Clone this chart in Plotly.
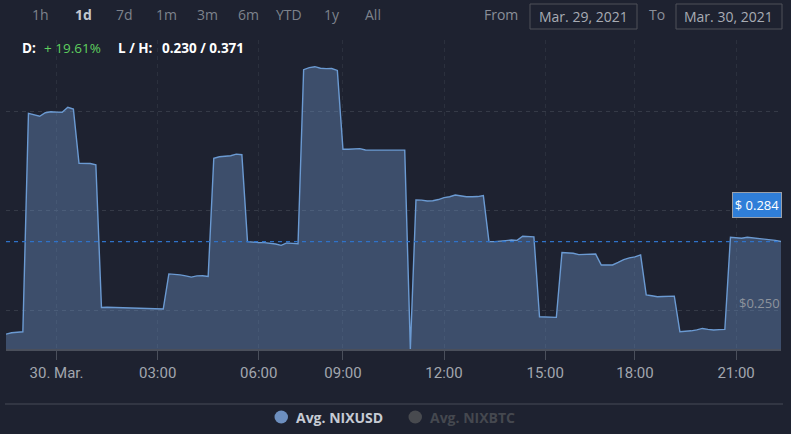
import pandas as pd
import plotly.graph_objects as go

# ---------------- data ----------------
# 10-minute samples of Avg. NIXUSD, 29 Mar 2021 22:30 -> 30 Mar 2021 22:20 (gaps removed, ordinal axis)
missing_times = ["2021-03-30 07:00", "2021-03-30 07:10", "2021-03-30 07:20",
                 "2021-03-30 16:20", "2021-03-30 16:30"]
nixusd = [
    0.2378, 0.2385, 0.2388, 0.2390,
    0.3492, 0.3483, 0.3477, 0.3495, 0.3500, 0.3498, 0.3497, 0.3522, 0.3513,
    0.3240, 0.3240, 0.3239, 0.3232,
    0.2513, 0.2514, 0.2513, 0.2512, 0.2512, 0.2511, 0.2510, 0.2509, 0.2509, 0.2507, 0.2506, 0.2505,
    0.2682, 0.2680, 0.2677, 0.2672, 0.2666, 0.2672, 0.2673, 0.2669,
    0.3265, 0.3273, 0.3276, 0.3278, 0.3286, 0.3283,
    0.2845, 0.2841, 0.2840, 0.2840, 0.2838, 0.2833, 0.2826, 0.2838, 0.2836, 0.2834,
    0.3712, 0.3722, 0.3727, 0.3719, 0.3717, 0.3718, 0.3708,
    0.3311, 0.3311, 0.3313, 0.3314, 0.3307, 0.3307, 0.3307, 0.3305, 0.3305, 0.3306, 0.3306, 0.3306,
    0.2304,
    0.3055, 0.3054, 0.3050, 0.3051, 0.3057, 0.3067, 0.3071, 0.3080, 0.3074, 0.3071, 0.3071, 0.3072, 0.3077,
    0.2845, 0.2845, 0.2846, 0.2850, 0.2853, 0.2851, 0.2872, 0.2870, 0.2869,
    0.2466, 0.2466, 0.2465, 0.2463,
    0.2790, 0.2788, 0.2786, 0.2779, 0.2779, 0.2781, 0.2782,
    0.2727, 0.2727, 0.2727, 0.2740, 0.2754, 0.2763, 0.2768, 0.2778,
    0.2576, 0.2572, 0.2567, 0.2568, 0.2569, 0.2570,
    0.2390, 0.2392, 0.2395, 0.2400, 0.2407, 0.2402, 0.2399, 0.2401, 0.2402,
    0.2867, 0.2864, 0.2862, 0.2867, 0.2864, 0.2861, 0.2858, 0.2855, 0.2851, 0.2845,
]
tick_times = ["00:00", "03:00", "06:00", "09:00", "12:00", "15:00", "18:00", "21:00"]
tick_labels = ["30. Mar.", "03:00", "06:00", "09:00", "12:00", "15:00", "18:00", "21:00"]
y_grid = [0.25, 0.30, 0.35]
range_buttons = ["1h", "1d", "7d", "1m", "3m", "6m", "YTD", "1y", "All"]
stats_change = "+ 19.61%"
stats_low_high = "0.230 / 0.371"
date_from = "Mar. 29, 2021"
date_to = "Mar. 30, 2021"
series_names = ["Avg. NIXUSD", "Avg. NIXBTC"]

# ---------------- build ----------------
times = pd.date_range("2021-03-29 22:30", "2021-03-30 22:20", freq="10min")
times = times[~times.isin(pd.to_datetime(missing_times))]
assert len(times) == len(nixusd)
pos = list(range(len(times)))  # ordinal positions
labels_hm = [t.strftime("%H:%M") for t in times]
tickvals = [labels_hm.index(t) for t in tick_times]

BG = "#1e2230"
W, H = 791, 434
L, R, T, B = 6, 781, 40, 349


def fx(px):
    return (px - L) / (R - L)


def fy(py):
    return (B - py) / (B - T)


fig = go.Figure()
fig.add_trace(go.Scatter(
    x=pos, y=nixusd, mode="lines", fill="tozeroy",
    line=dict(color="#6b9ad2", width=1.4),
    fillcolor="rgba(110,150,200,0.39)",
    hoverinfo="skip", showlegend=False,
))

last = nixusd[-1]
shapes = [
    # current price line
    dict(type="line", xref="paper", yref="y", x0=0, x1=1, y0=last, y1=last,
         line=dict(color="#2f72c8", width=1.4, dash="4px,4px"), layer="above"),
    # date input boxes
    dict(type="rect", xref="paper", yref="paper", x0=fx(530), x1=fx(637), y0=fy(29), y1=fy(4),
         line=dict(color="#4f5158", width=1)),
    dict(type="rect", xref="paper", yref="paper", x0=fx(676), x1=fx(782), y0=fy(29), y1=fy(4),
         line=dict(color="#4f5158", width=1)),
    # separator line above legend
    dict(type="line", xref="paper", yref="paper", x0=fx(5), x1=fx(783), y0=fy(404), y1=fy(404),
         line=dict(color="#3a3e4a", width=1.5)),
    # legend symbols
    dict(type="circle", xref="paper", yref="paper", x0=fx(274.5), x1=fx(288), y0=fy(423.5), y1=fy(410.5),
         fillcolor="#6d8fbf", line=dict(width=0)),
    dict(type="circle", xref="paper", yref="paper", x0=fx(408.5), x1=fx(422), y0=fy(423.5), y1=fy(410.5),
         fillcolor="#484a4f", line=dict(width=0)),
]

ann = []
btn_x = [40, 83, 124, 166, 207, 248, 289, 332, 373]
for name, bx in zip(range_buttons, btn_x):
    sel = name == "1d"
    ann.append(dict(x=fx(bx), y=fy(15), xref="paper", yref="paper", showarrow=False,
                    text=f"<b>{name}</b>" if sel else name,
                    font=dict(family="Open Sans", size=14, color="#c3c7cf" if sel else "#7d828c"),
                    xanchor="center", yanchor="middle"))
ann += [
    dict(x=fx(501), y=fy(15), text="From", font=dict(family="Open Sans", size=14, color="#8a8f99")),
    dict(x=fx(583), y=fy(16), text=date_from, font=dict(family="Open Sans", size=14, color="#a8acb4")),
    dict(x=fx(657), y=fy(15), text="To", font=dict(family="Open Sans", size=14, color="#8a8f99")),
    dict(x=fx(728), y=fy(16), text=date_to, font=dict(family="Open Sans", size=14, color="#a8acb4")),
]
for a in ann[-4:]:
    a.update(xref="paper", yref="paper", showarrow=False, xanchor="center", yanchor="middle")

stat_font = "Open Sans"
ann += [
    dict(x=fx(20), y=fy(47.5), text="<b>D:</b>", font=dict(family=stat_font, size=13.5, color="#ffffff"),
         xanchor="left"),
    dict(x=fx(42), y=fy(47.5), text=stats_change, font=dict(family=stat_font, size=13.5, color="#5fd05f"),
         xanchor="left"),
    dict(x=fx(116), y=fy(47.5), text="<b>L / H:</b>", font=dict(family=stat_font, size=13.5, color="#ffffff"),
         xanchor="left"),
    dict(x=fx(160), y=fy(47.5), text=f"<b>{stats_low_high}</b>",
         font=dict(family=stat_font, size=13.5, color="#ffffff"), xanchor="left"),
]
for a in ann[-4:]:
    a.update(xref="paper", yref="paper", showarrow=False, yanchor="middle")

# y-axis label + current-price label
ann += [
    dict(x=fx(782), y=fy(303), xref="paper", yref="paper", showarrow=False, text="$0.250",
         font=dict(family="Open Sans", size=13, color="#8e939c"), xanchor="right", yanchor="middle"),
    dict(x=fx(782), y=fy(204.5), xref="paper", yref="paper", showarrow=False, text=f"$ {last:.3f}"[:7],
         font=dict(family="Open Sans", size=13, color="#ffffff"), xanchor="right", yanchor="middle",
         bgcolor="#2f7ed8", bordercolor="#9aa0aa", borderwidth=1, borderpad=2, width=44, height=20),
]
# legend
leg_font = "Open Sans"
ann += [
    dict(x=fx(294), y=fy(417), xref="paper", yref="paper", showarrow=False, text=f"<b>{series_names[0]}</b>",
         font=dict(family=leg_font, size=14, color="#c6cbd4"), xanchor="left", yanchor="middle"),
    dict(x=fx(428), y=fy(417), xref="paper", yref="paper", showarrow=False, text=f"<b>{series_names[1]}</b>",
         font=dict(family=leg_font, size=14, color="#45484f"), xanchor="left", yanchor="middle"),
]

fig.update_layout(
    width=W, height=H,
    margin=dict(l=L, r=W - R, t=T, b=H - B),
    paper_bgcolor=BG, plot_bgcolor=BG,
    shapes=shapes, annotations=ann,
    showlegend=False,
    xaxis=dict(
        range=[0, len(pos) - 1], tickmode="array", tickvals=tickvals, ticktext=tick_labels,
        showgrid=True, gridcolor="#2b303d", griddash="4px,4px", gridwidth=1,
        ticks="outside", ticklen=9, tickcolor="#4a4f5b", tickwidth=1,
        showline=True, linecolor="#4a4f5b", linewidth=1.5, zeroline=False,
        tickfont=dict(family="Liberation Sans Narrow, Roboto", size=15, color="#a2a6ae"),
        fixedrange=True,
    ),
    yaxis=dict(
        range=[0.25 - 39 / 1983, 0.25 + 270 / 1983], tickmode="array", tickvals=y_grid,
        showticklabels=False, showgrid=True, gridcolor="#353a47", griddash="4px,4px", gridwidth=1,
        zeroline=False, fixedrange=True,
    ),
)

fig.write_html("out.html")
